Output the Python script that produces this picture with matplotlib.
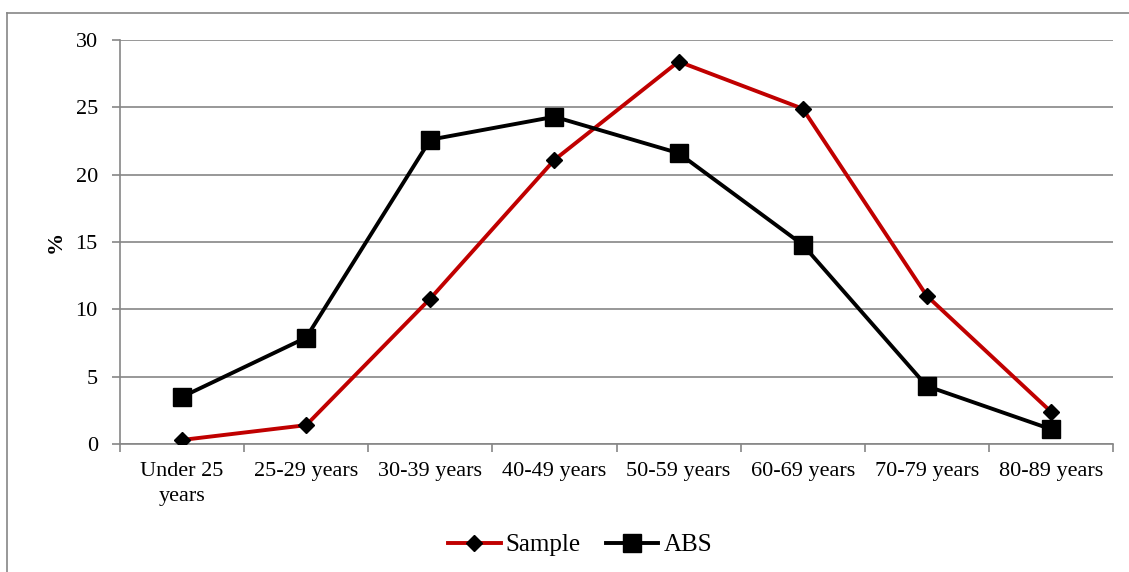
import matplotlib.pyplot as plt
from matplotlib.lines import Line2D

age_groups = ['Under 25\nyears', '25-29 years', '30-39 years', '40-49 years',
              '50-59 years', '60-69 years', '70-79 years', '80-89 years']
sample = [0.3, 1.4, 10.8, 21.1, 28.4, 24.9, 11.0, 2.4]
abs_pop = [3.5, 7.9, 22.6, 24.3, 21.6, 14.8, 4.3, 1.1]
y_ticks = [0, 5, 10, 15, 20, 25, 30]

plt.rcParams['font.family'] = ['Liberation Serif', 'DejaVu Serif']
grey = '#868686'

fig = plt.figure(figsize=(11.29, 5.72), dpi=100)
W, H = 1129, 572
ax = fig.add_axes([120 / W, 1 - 444 / H, 993 / W, 404 / H])

x = list(range(len(age_groups)))
ax.plot(x, sample, color='#c00000', lw=2.8, marker='D', ms=8.5,
        mfc='black', mec='black', label='Sample', zorder=3)
ax.plot(x, abs_pop, color='black', lw=2.8, marker='s', ms=13,
        mfc='black', mec='black', label='ABS', zorder=3)

ax.set_xlim(-0.5, len(age_groups) - 0.5)
ax.set_ylim(0, 30)
ax.set_yticks(y_ticks)
ax.yaxis.grid(True, color=grey, lw=1.2)
ax.set_axisbelow(True)

# boundary ticks between categories, labels centred on each category
ax.set_xticks([i - 0.5 for i in range(len(age_groups) + 1)])
ax.set_xticklabels([])
ax.set_xticks(x, minor=True)
ax.set_xticklabels(age_groups, minor=True, fontsize=16, linespacing=1.4)
ax.tick_params(axis='x', which='major', length=6, color=grey, width=1.2)
ax.tick_params(axis='x', which='minor', length=0, pad=13)
ax.tick_params(axis='y', length=6, color=grey, width=1.2, labelsize=16, pad=10)

for side in ['top', 'right']:
    ax.spines[side].set_visible(False)
for side in ['left', 'bottom']:
    ax.spines[side].set_color(grey)
    ax.spines[side].set_linewidth(1.2)

ax.set_ylabel('%', fontsize=16, fontweight='bold', labelpad=7)

# outer chart border
fig.add_artist(Line2D([7 / W, 1.0], [1 - 13 / H, 1 - 13 / H], color=grey, lw=1.2))
fig.add_artist(Line2D([7 / W, 7 / W], [1 - 13 / H, 0], color=grey, lw=1.2))

fig.legend(loc='center', bbox_to_anchor=(580 / W, 1 - 545 / H), ncol=2,
           frameon=False, fontsize=18, handlelength=2.1, columnspacing=1.0,
           handletextpad=0.2)

fig.savefig('out.png', dpi=100)
